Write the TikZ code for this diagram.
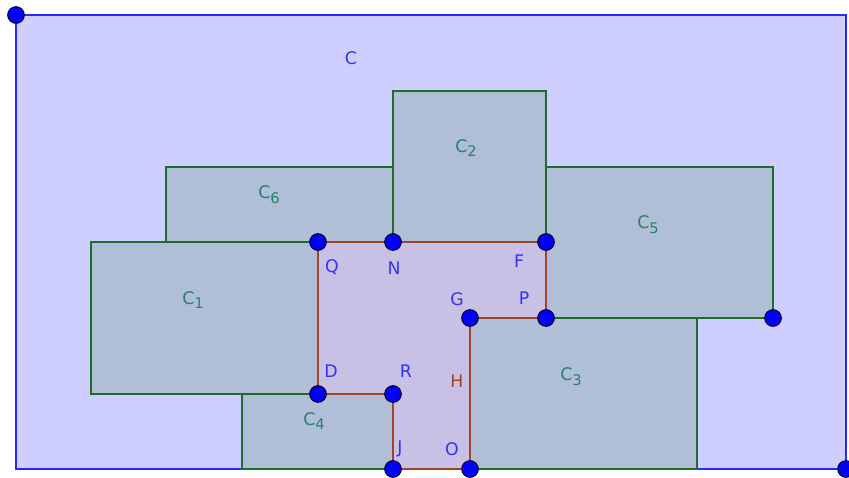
\documentclass[tikz,border=0pt]{standalone}
\usepackage{fontspec}
\setmainfont{DejaVu Sans}
\definecolor{outerfill}{RGB}{207,207,255}
\definecolor{outerline}{RGB}{40,40,255}
\definecolor{sqfill}{RGB}{176,190,215}
\definecolor{sqline}{RGB}{30,110,40}
\definecolor{polyfill}{RGB}{200,193,229}
\definecolor{polyline}{RGB}{160,70,40}
\definecolor{sqlabel}{RGB}{40,130,100}
\definecolor{ptlabel}{RGB}{50,50,255}
\newcommand{\subsc}[1]{\raisebox{-0.5ex}{\fontsize{11}{12}\selectfont #1}}
\tikzset{
  outerbox/.style={fill=outerfill,draw=outerline,line width=1.2pt},
  sqbox/.style={fill=sqfill,draw=sqline,line width=1.1pt},
  polybox/.style={fill=polyfill,draw=polyline,line width=1.3pt},
  sqlab/.style={text=sqlabel,font=\fontsize{13}{15}\selectfont,inner sep=0pt},
  ptlab/.style={text=ptlabel,font=\fontsize{13}{15}\selectfont,inner sep=0pt},
  dot/.style={circle,fill=blue,draw=black,line width=0.7pt,minimum size=12.5pt,inner sep=0pt}
}
\begin{document}
\begin{tikzpicture}[x=0.75pt,y=-0.75pt]
\useasboundingbox (0,0) rectangle (849,478);
% outer rectangle
\coordinate (TL) at (16,15);
\coordinate (BR) at (846,469);
\draw[outerbox] (TL) rectangle (BR);
% squares
\draw[sqbox] (393,91) rectangle (546,242);
\draw[sqbox] (166,167) rectangle (393,242);
\draw[sqbox] (546,167) rectangle (773,318);
\draw[sqbox] (91,242) rectangle (318,394);
\draw[sqbox] (470,318) rectangle (697,469);
\draw[sqbox] (242,394) rectangle (393,469);
% polygon points
\coordinate (Q) at (318,242);
\coordinate (N) at (393,242);
\coordinate (F) at (546,242);
\coordinate (P) at (546,318);
\coordinate (G) at (470,318);
\coordinate (O) at (470,469);
\coordinate (J) at (393,469);
\coordinate (R) at (393,394);
\coordinate (D) at (318,394);
\coordinate (E5) at (773,318);
\draw[polybox] (Q) -- (N) -- (F) -- (P) -- (G) -- (O) -- (J) -- (R) -- (D) -- cycle;
% labels
\node[ptlab] (lC) at (351,58) {C};
\node[sqlab] (l2) at (466,148) {C\subsc{2}};
\node[sqlab] (l6) at (269,195) {C\subsc{6}};
\node[sqlab] (l5) at (648,225) {C\subsc{5}};
\node[sqlab] (l1) at (193,300) {C\subsc{1}};
\node[sqlab] (l3) at (571,377) {C\subsc{3}};
\node[sqlab] (l4) at (314,421) {C\subsc{4}};
\node[ptlab] (lQ) at (332,267) {Q};
\node[ptlab] (lN) at (394,268) {N};
\node[ptlab] (lF) at (519,261) {F};
\node[ptlab] (lG) at (457,299) {G};
\node[ptlab] (lP) at (524,298) {P};
\node[ptlab] (lD) at (331,371) {D};
\node[ptlab] (lR) at (406,371) {R};
\node[text=polyline,font=\fontsize{13}{15}\selectfont,inner sep=0pt] (lH) at (457,381) {H};
\node[ptlab] (lJ) at (400,449) {J};
\node[ptlab] (lO) at (452,449) {O};
% points
\foreach \p in {TL,BR,Q,N,F,P,G,O,J,R,D,E5} \node[dot] at (\p) {};
\end{tikzpicture}
\end{document}
